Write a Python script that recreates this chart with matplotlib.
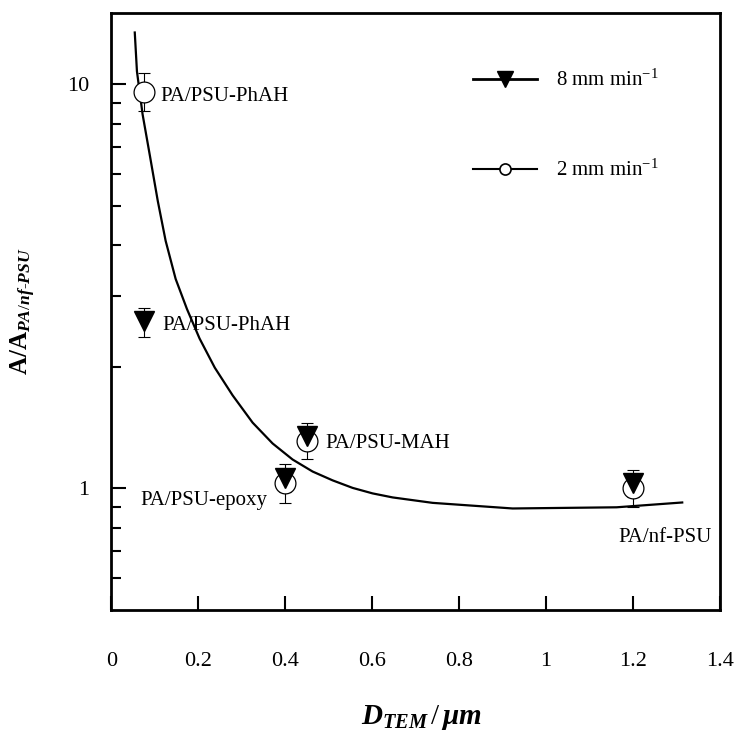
import numpy as np
import matplotlib
matplotlib.use("Agg")
import matplotlib.pyplot as plt
from matplotlib.lines import Line2D
from matplotlib.ticker import FixedLocator, NullFormatter

plt.rcParams['font.family'] = ['Liberation Serif', 'DejaVu Serif']
plt.rcParams['mathtext.fontset'] = 'custom'
plt.rcParams['mathtext.rm'] = 'Liberation Serif'
plt.rcParams['mathtext.it'] = 'Liberation Serif:bold:italic'
plt.rcParams['mathtext.bf'] = 'Liberation Serif:bold'

# data
d_tem = [0.075, 0.4, 0.45, 1.2]
# 8 mm/min (filled triangles), PhAH / epoxy / MAH / nf-PSU
tri_y = [2.6, 1.06, 1.35, 1.03]
tri_up = [0.2, 0.09, 0.1, 0.08]
tri_dn = [0.23, 0.08, 0.1, 0.08]
# 2 mm/min (open circles)
circ_y = [9.6, 1.03, 1.31, 1.0]
circ_up = [1.1, 0.08, 0.1, 0.08]
circ_dn = [1.0, 0.11, 0.13, 0.1]

# guide curve
curve_x = [0.054, 0.059, 0.072, 0.089, 0.107, 0.125, 0.148, 0.174, 0.203,
           0.238, 0.279, 0.325, 0.371, 0.417, 0.463, 0.509, 0.555, 0.601,
           0.647, 0.739, 0.923, 1.162, 1.313]
curve_y = [13.44, 10.77, 8.43, 6.64, 5.14, 4.10, 3.30, 2.78, 2.35,
           1.99, 1.70, 1.455, 1.292, 1.179, 1.101, 1.047, 1.003, 0.972,
           0.950, 0.921, 0.892, 0.898, 0.923]

labels = ["PA/PSU-PhAH", "PA/PSU-PhAH", "PA/PSU-epoxy", "PA/PSU-MAH", "PA/nf-PSU"]
label_x = [0.113, 0.117, 0.067, 0.492, 1.166]
label_y = [9.34, 2.53, 0.934, 1.29, 0.757]

xticks = [0, 0.2, 0.4, 0.6, 0.8, 1.0, 1.2, 1.4]
xticklabels = ["0", "0.2", "0.4", "0.6", "0.8", "1", "1.2", "1.4"]

fig = plt.figure(figsize=(7.37, 7.35), dpi=100)
ax = fig.add_axes([0.151, 0.170, 0.826, 0.812])

ax.plot(curve_x, curve_y, color="black", lw=1.6, zorder=1)

ax.errorbar(d_tem, circ_y, yerr=[circ_dn, circ_up], fmt="none", ecolor="black",
            elinewidth=0.8, capsize=4, capthick=0.8, zorder=2)
ax.errorbar(d_tem, tri_y, yerr=[tri_dn, tri_up], fmt="none", ecolor="black",
            elinewidth=0.8, capsize=4, capthick=0.8, zorder=2)
ax.plot(d_tem, circ_y, ls="none", marker="o", ms=15, mfc="white", mec="black",
        mew=0.9, zorder=3)
ax.plot(d_tem, tri_y, ls="none", marker="v", ms=14, mfc="black", mec="black",
        zorder=4)

for t, x, y in zip(labels, label_x, label_y):
    ax.text(x, y, t, fontsize=15, ha="left", va="center")

ax.set_yscale("log")
ax.set_xlim(0, 1.4)
ax.set_ylim(0.5, 15)
ax.xaxis.set_major_locator(FixedLocator(xticks))
ax.set_xticklabels(xticklabels)
ax.yaxis.set_major_locator(FixedLocator([1, 10]))
ax.yaxis.set_minor_locator(FixedLocator([0.6, 0.7, 0.8, 0.9, 2, 3, 4, 5, 6, 7, 8, 9]))
ax.set_yticklabels(["1", "10"])
ax.yaxis.set_minor_formatter(NullFormatter())

ax.tick_params(axis="both", which="both", direction="in", top=False, right=False,
               labelsize=16)
ax.tick_params(axis="x", which="major", length=10, width=1.5, pad=30)
ax.tick_params(axis="y", which="major", length=11, width=1.5, pad=16)
ax.tick_params(axis="y", which="minor", length=7, width=1.5)
for s in ax.spines.values():
    s.set_linewidth(2)

ax.set_xlabel(r"$D_{TEM}\,/\,\mu m$", fontsize=21)
ax.xaxis.set_label_coords(0.51, -0.155)
ax.set_ylabel(r"$\mathbf{A/A}_{PA/nf\text{-}PSU}$", fontsize=18)
ax.yaxis.set_label_coords(-0.12, 0.5)

handles = [
    Line2D([], [], color="black", lw=2, marker="v", ms=12, mfc="black"),
    Line2D([], [], color="black", lw=1.5, marker="o", ms=8, mfc="white", mew=1.2),
]
ax.legend(handles, ["8 mm min$^{-1}$", "2 mm min$^{-1}$"], loc="upper left",
          bbox_to_anchor=(0.594, 0.905), frameon=False, fontsize=15,
          handlelength=3.1, handletextpad=0.9, labelspacing=3.3,
          borderpad=0, borderaxespad=0)

fig.savefig("out.png", dpi=100)
